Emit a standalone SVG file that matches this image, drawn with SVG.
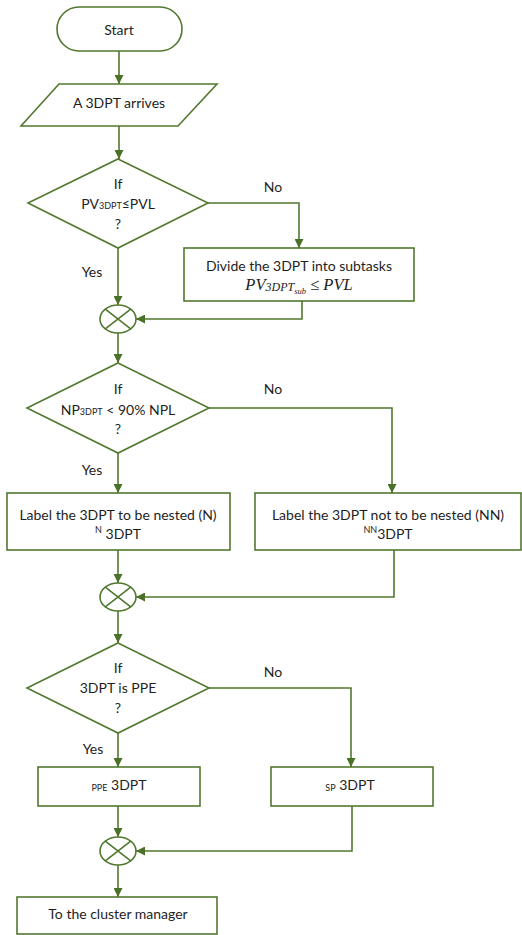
<svg xmlns="http://www.w3.org/2000/svg" width="522" height="935" viewBox="0 0 522 935">
  <defs>
    <marker id="arrow" markerUnits="userSpaceOnUse" markerWidth="9" markerHeight="9" refX="9" refY="4.5" orient="auto">
      <path d="M0,0 L9,4.5 L0,9 z" fill="#4a7127"/>
    </marker>
    <style>
      .shape { fill: #ffffff; stroke: #52782f; stroke-width: 1.6; }
      .line { fill: none; stroke: #52782f; stroke-width: 1.6; }
      .edge { fill: none; stroke: #52782f; stroke-width: 1.6; marker-end: url(#arrow); }
      text { font-family: Lato, "Liberation Sans", sans-serif; font-size: 14px; fill: #1e1e1e; text-anchor: middle; dominant-baseline: central; }
      .small { font-size: 9px; }
      .math { font-family: "Liberation Serif", serif; font-style: italic; font-size: 16.5px; }
    </style>
  </defs>

  <rect width="522" height="935" fill="#ffffff"/>

  <!-- connectors -->
  <g id="connectors">
    <path class="edge" d="M119,51 V84"/>
    <path class="edge" d="M119,126 V159"/>
    <path class="edge" d="M208,203 H299 V248"/>
    <path class="edge" d="M118,248 V305"/>
    <path class="edge" d="M302,301 V319 H136"/>
    <path class="edge" d="M118,333 V363"/>
    <path class="edge" d="M209,408 H392 V493"/>
    <path class="edge" d="M118,453 V493"/>
    <path class="edge" d="M118,550 V583"/>
    <path class="edge" d="M394,550 V597 H136"/>
    <path class="edge" d="M118,611 V643"/>
    <path class="edge" d="M209,688 H351 V767"/>
    <path class="edge" d="M118,733 V767"/>
    <path class="edge" d="M118,806 V837"/>
    <path class="edge" d="M352,806 V851 H136"/>
    <path class="edge" d="M118,865 V897"/>
  </g>

  <!-- branch labels -->
  <g id="labels">
    <text x="273" y="186">No</text>
    <text x="92" y="271">Yes</text>
    <text x="273" y="388">No</text>
    <text x="92" y="469">Yes</text>
    <text x="273" y="671">No</text>
    <text x="93" y="748">Yes</text>
  </g>

  <g id="start">
    <rect class="shape" x="57" y="7" width="125" height="44" rx="22" ry="22"/>
    <text x="119" y="29">Start</text>
  </g>

  <g id="arrival">
    <polygon class="shape" points="59,84 217,84 178,126 21,126"/>
    <text x="119" y="102">A 3DPT arrives</text>
  </g>

  <g id="check-volume">
    <polygon class="shape" points="118,159 208,203 118,248 28,203"/>
    <text x="118" y="183">If</text>
    <text x="118" y="203">PV<tspan class="small" dy="2">3DPT</tspan><tspan dy="-2">≤PVL</tspan></text>
    <text x="118" y="223">?</text>
  </g>

  <g id="divide">
    <rect class="shape" x="184" y="248" width="230" height="53"/>
    <text x="299" y="265">Divide the 3DPT into subtasks</text>
    <text class="math" x="299" y="284">PV<tspan font-size="12" dy="3">3DPT</tspan><tspan font-size="8.5" dy="4">sub</tspan><tspan dy="-7"> ≤ PVL</tspan></text>
  </g>

  <g id="merge-1">
    <ellipse class="shape" cx="118" cy="319" rx="18" ry="14"/>
    <path class="line" d="M105.3,309.1 L130.7,328.9 M130.7,309.1 L105.3,328.9"/>
  </g>

  <g id="check-nesting">
    <polygon class="shape" points="118,363 209,408 118,453 27,408"/>
    <text x="118" y="388">If</text>
    <text x="118" y="409">NP<tspan class="small" dy="2">3DPT</tspan><tspan dy="-2"> &lt; 90% NPL</tspan></text>
    <text x="118" y="428">?</text>
  </g>

  <g id="nested">
    <rect class="shape" x="7" y="493" width="223" height="57"/>
    <text x="118" y="514">Label the 3DPT to be nested (N)</text>
    <text x="118" y="533"><tspan class="small" dy="-4">N</tspan><tspan dy="4"> 3DPT</tspan></text>
  </g>

  <g id="not-nested">
    <rect class="shape" x="255" y="493" width="266" height="57"/>
    <text x="388" y="514">Label the 3DPT not to be nested (NN)</text>
    <text x="388" y="533"><tspan class="small" dy="-4">NN</tspan><tspan dy="4">3DPT</tspan></text>
  </g>

  <g id="merge-2">
    <ellipse class="shape" cx="118" cy="597" rx="18" ry="14"/>
    <path class="line" d="M105.3,587.1 L130.7,606.9 M130.7,587.1 L105.3,606.9"/>
  </g>

  <g id="check-ppe">
    <polygon class="shape" points="118,643 209,688 118,733 27,688"/>
    <text x="118" y="667">If</text>
    <text x="118" y="687">3DPT is PPE</text>
    <text x="118" y="707">?</text>
  </g>

  <g id="ppe">
    <rect class="shape" x="38" y="767" width="162" height="39"/>
    <text x="119" y="784"><tspan class="small" dy="3">PPE</tspan><tspan dy="-3"> 3DPT</tspan></text>
  </g>

  <g id="sp">
    <rect class="shape" x="271" y="767" width="162" height="39"/>
    <text x="350" y="784"><tspan class="small" dy="3">SP</tspan><tspan dy="-3"> 3DPT</tspan></text>
  </g>

  <g id="merge-3">
    <ellipse class="shape" cx="118" cy="851" rx="18" ry="14"/>
    <path class="line" d="M105.3,841.1 L130.7,860.9 M130.7,841.1 L105.3,860.9"/>
  </g>

  <g id="cluster-manager">
    <rect class="shape" x="17" y="897" width="200" height="37"/>
    <text x="118" y="913">To the cluster manager</text>
  </g>
</svg>
